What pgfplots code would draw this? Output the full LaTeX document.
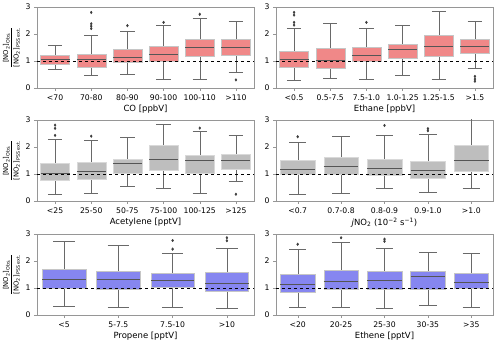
\documentclass[border=0pt]{standalone}
\usepackage{fontspec}
\setmainfont{DejaVu Sans}
\usepackage{amsmath}
\usepackage{pgfplots}
\pgfplotsset{compat=1.18}
\usepgfplotslibrary{statistics}
\definecolor{boxred}{RGB}{240,136,136}
\definecolor{boxgray}{RGB}{190,190,190}
\definecolor{boxblue}{RGB}{134,134,240}
\definecolor{whisk}{RGB}{105,105,105}
\definecolor{medc}{RGB}{85,85,85}
\definecolor{spine}{RGB}{150,150,150}
\definecolor{outl}{RGB}{60,60,60}

% one box: position, lower whisker, Q1, median, Q3, upper whisker, outliers
\newcommand{\bx}[7]{\addplot[mark=diamond*, mark size=1.3pt,
    mark options={fill=outl,draw=outl},
    boxplot prepared={draw position=#1, lower whisker=#2, lower quartile=#3,
      median=#4, upper quartile=#5, upper whisker=#6}] coordinates {#7};}
\newcommand{\oneline}[1]{\addplot[black,dashed,thin] coordinates {(-0.5,1) (#1,1)};}

\pgfplotsset{
  panel/.style={
    scale only axis, width=217pt, height=81pt, anchor=south west,
    ymin=0, ymax=3, ytick={0,1,2,3},
    xmin=-0.5, xtick={0,...,5},
    axis line style={spine}, tick style={spine, thin},
    tick align=outside, major tick length=3pt,
    xtick pos=bottom, ytick pos=left,
    tick label style={font=\fontsize{7.7}{8}\selectfont},
    /pgf/number format/assume math mode=true,
    label style={font=\fontsize{8.5}{10}\selectfont},
    xlabel style={inner sep=0pt, yshift=-1pt},
    boxplot/draw direction=y,
    boxplot/box extend=0.8, boxplot/whisker extend=0.4,
    boxplot/every whisker/.style={draw=whisk, thin},
    boxplot/every median/.style={draw=medc, semithick},
  },
  lefty/.style={
    ylabel={$\dfrac{\text{[NO}_{\text{2}}\text{]}_{\text{Obs.}}}{\text{[NO}_{\text{2}}\text{]}_{\text{PSS ext.}}}$},
    ylabel style={font=\fontsize{6.8}{7}\selectfont, inner sep=0pt, yshift=2pt},
  },
  redb/.style={boxplot/every box/.style={fill=boxred, draw=gray!45}},
  grayb/.style={boxplot/every box/.style={fill=boxgray, draw=gray!30}},
  blueb/.style={boxplot/every box/.style={fill=boxblue, draw=gray!45}},
}

\begin{document}
\begin{tikzpicture}
\useasboundingbox (0pt,0pt) rectangle (500pt,343pt);

% CO
\begin{axis}[panel, lefty, redb, at={(37pt,255pt)}, xmax=5.5,
  xticklabels={<70,70-80,80-90,90-100,100-110,>110}, xlabel={CO [ppbV]}]
\bx{0}{0.70}{0.89}{1.05}{1.23}{1.60}{}
\bx{1}{0.49}{0.77}{1.05}{1.27}{1.95}{(0,2.80) (0,2.38) (0,2.29) (0,2.20)}
\bx{2}{0.51}{0.94}{1.15}{1.42}{2.09}{(0,2.31)}
\bx{3}{0.31}{1.00}{1.23}{1.56}{2.32}{(0,2.43)}
\bx{4}{0.31}{1.17}{1.52}{1.79}{2.59}{(0,2.73)}
\bx{5}{0.60}{1.22}{1.52}{1.81}{2.46}{(0,0.30)}
\oneline{5.5}
\end{axis}

% Ethane
\begin{axis}[panel, redb, at={(276pt,255pt)}, xmax=5.5,
  xticklabels={<0.5,0.5-7.5,7.5-1.0,1.0-1.25,1.25-1.5,>1.5}, xlabel={Ethane [ppbV]}]
\bx{0}{0.30}{0.78}{1.07}{1.37}{2.21}{(0,2.80) (0,2.70) (0,2.43) (0,2.33)}
\bx{1}{0.35}{0.72}{1.01}{1.47}{2.41}{}
\bx{2}{0.31}{1.01}{1.22}{1.52}{2.20}{(0,2.43)}
\bx{3}{0.46}{1.09}{1.42}{1.62}{2.33}{}
\bx{4}{0.31}{1.17}{1.56}{1.94}{2.84}{}
\bx{5}{0.74}{1.30}{1.53}{1.79}{2.46}{(0,0.43) (0,0.33) (0,0.25)}
\oneline{5.5}
\end{axis}

% Acetylene
\begin{axis}[panel, lefty, grayb, at={(37pt,142pt)}, xmax=5.5,
  xticklabels={<25,25-50,50-75,75-100,100-125,>125}, xlabel={Acetylene [pptV]}]
\bx{0}{0.27}{0.78}{1.04}{1.40}{2.29}{(0,2.81) (0,2.69) (0,2.43)}
\bx{1}{0.29}{0.81}{1.09}{1.43}{2.27}{(0,2.40)}
\bx{2}{0.55}{1.03}{1.39}{1.56}{2.35}{}
\bx{3}{0.48}{1.14}{1.54}{2.06}{2.84}{}
\bx{4}{0.29}{1.03}{1.49}{1.70}{2.58}{(0,2.70)}
\bx{5}{0.74}{1.19}{1.49}{1.73}{2.43}{(0,0.25)}
\oneline{5.5}
\end{axis}

% jNO2
\begin{axis}[panel, grayb, at={(276pt,142pt)}, xmax=4.5, xtick={0,...,4},
  xticklabels={<0.7,0.7-0.8,0.8-0.9,0.9-1.0,>1.0},
  xlabel={\textit{j}NO\textsubscript{2} (10\textsuperscript{−2} s\textsuperscript{−1})}]
\bx{0}{0.26}{1.00}{1.19}{1.51}{2.16}{(0,2.38)}
\bx{1}{0.29}{1.00}{1.29}{1.61}{2.39}{}
\bx{2}{0.48}{0.96}{1.20}{1.56}{2.43}{(0,2.80)}
\bx{3}{0.31}{0.83}{1.12}{1.49}{2.48}{(0,2.68) (0,2.60)}
\bx{4}{0.46}{1.09}{1.52}{2.06}{3.10}{}
\oneline{4.5}
\end{axis}

% Propene
\begin{axis}[panel, lefty, blueb, at={(37pt,28pt)}, xmax=3.5, xtick={0,...,3},
  xticklabels={<5,5-7.5,7.5-10,>10}, xlabel={Propene [pptV]}]
\bx{0}{0.31}{1.01}{1.33}{1.69}{2.73}{}
\bx{1}{0.30}{0.96}{1.33}{1.62}{2.60}{}
\bx{2}{0.30}{1.02}{1.28}{1.56}{2.29}{(0,2.76) (0,2.44)}
\bx{3}{0.27}{0.88}{1.17}{1.57}{2.49}{(0,2.86) (0,2.75)}
\oneline{3.5}
\end{axis}

% Ethene
\begin{axis}[panel, blueb, at={(276pt,28pt)}, xmax=4.5, xtick={0,...,4},
  xticklabels={<20,20-25,25-30,30-35,>35}, xlabel={Ethene [pptV]}]
\bx{0}{0.30}{0.85}{1.15}{1.51}{2.45}{(0,2.62)}
\bx{1}{0.30}{0.96}{1.26}{1.67}{2.71}{(0,2.86)}
\bx{2}{0.27}{0.96}{1.29}{1.63}{2.49}{(0,2.81) (0,2.73)}
\bx{3}{0.35}{0.95}{1.43}{1.63}{2.31}{}
\bx{4}{0.30}{1.01}{1.21}{1.56}{2.29}{}
\oneline{4.5}
\end{axis}
\end{tikzpicture}
\end{document}
